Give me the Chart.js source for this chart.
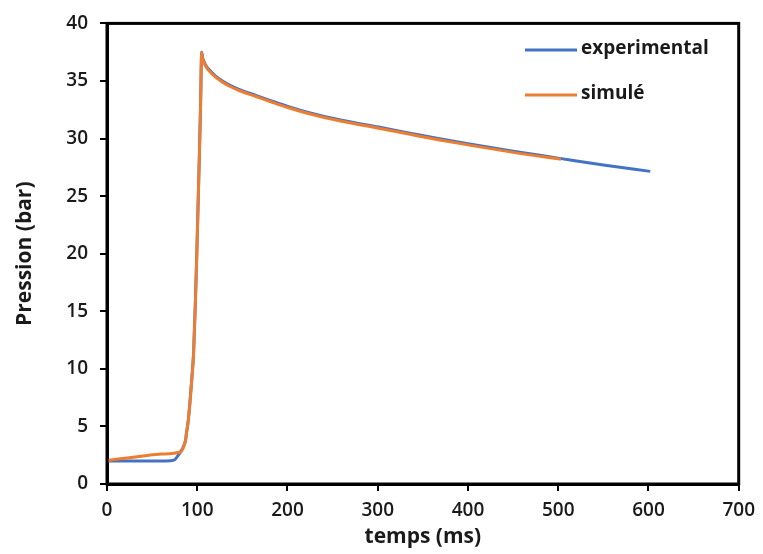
<!DOCTYPE html>
<html><head><meta charset="utf-8">
<script src="https://cdn.jsdelivr.net/npm/chart.js@4"></script>
<style>html,body{margin:0;padding:0;background:#fff}#c{display:block}</style>
</head><body>
<canvas id="c" width="763" height="554"></canvas>
<script>
const seriesNames = ['experimental', 'simulé'];
const timeExp  = [0, 30, 60, 70, 75, 78, 82, 85, 87, 88, 90, 92, 94, 96, 98, 99.5, 101, 102.5, 103.7, 104.9, 106, 108, 110, 113.6, 120, 128, 137, 147, 165, 183, 202, 224, 260, 301, 340, 367, 400, 450, 500, 550, 602];
const pressExp = [2.0, 2.0, 2.0, 2.02, 2.1, 2.4, 2.85, 3.3, 3.8, 4.4, 5.5, 7.2, 9.2, 11.5, 16, 20, 24.5, 29, 33, 37.5, 37.0, 36.6, 36.3, 35.95, 35.45, 35.0, 34.6, 34.25, 33.75, 33.25, 32.75, 32.25, 31.6, 31.0, 30.4, 30.0, 29.55, 28.9, 28.3, 27.7, 27.15];
const timeSim  = [0, 20, 40, 60, 82, 85, 87, 88, 90, 92, 94, 96, 98, 99.5, 101, 102.5, 103.7, 104.9, 106, 108, 110, 113.6, 120, 128, 137, 147, 165, 183, 202, 224, 260, 301, 340, 367, 400, 450, 503];
const pressSim = [2.05, 2.24, 2.43, 2.6, 2.8, 3.25, 3.75, 4.35, 5.45, 7.1, 9.1, 11.4, 15.9, 19.9, 24.4, 28.9, 32.9, 37.45, 36.9, 36.5, 36.2, 35.85, 35.35, 34.9, 34.5, 34.15, 33.65, 33.15, 32.65, 32.15, 31.5, 30.9, 30.3, 29.9, 29.45, 28.8, 28.2];
const xTicks = [0, 100, 200, 300, 400, 500, 600, 700];
const yTicks = [0, 5, 10, 15, 20, 25, 30, 35, 40];
const colors = ['#4472C4', '#ED7D31'];

const toPts = (xs, ys) => xs.map((x, i) => ({x, y: ys[i]}));
const FAM = "'Open Sans', 'Noto Sans', sans-serif";
const tickFont = {family: FAM, size: 19, weight: '600'};
const titleFont = {family: FAM, size: 21, weight: 'bold'};

const frame = {
  id: 'frame',
  afterDatasetsDraw(chart) {
    const {ctx, chartArea: a} = chart;
    ctx.save();
    ctx.strokeStyle = '#000'; ctx.lineWidth = 3;
    ctx.strokeRect(a.left, a.top, a.right - a.left, a.bottom - a.top);
    const lx = 525, ly = [50, 95];
    ctx.font = "bold 19px " + FAM;
    ctx.textBaseline = 'middle'; ctx.textAlign = 'left';
    seriesNames.forEach((n, i) => {
      ctx.strokeStyle = colors[i]; ctx.lineWidth = 3;
      ctx.beginPath(); ctx.moveTo(lx, ly[i]); ctx.lineTo(lx + 52, ly[i]); ctx.stroke();
      ctx.fillStyle = '#1a1a1a';
      ctx.fillText(n, lx + 56, ly[i] - 1);
    });
    ctx.restore();
  }
};

new Chart(document.getElementById('c'), {
  type: 'scatter',
  data: {
    datasets: [
      {label: seriesNames[0], data: toPts(timeExp, pressExp), borderColor: colors[0], borderWidth: 3, showLine: true, pointRadius: 0, cubicInterpolationMode: 'monotone', order: 2},
      {label: seriesNames[1], data: toPts(timeSim, pressSim), borderColor: colors[1], borderWidth: 3, showLine: true, pointRadius: 0, cubicInterpolationMode: 'monotone', order: 1}
    ]
  },
  options: {
    responsive: false, animation: false,
    layout: {padding: {left: 0, right: 20, top: 19, bottom: 0}},
    plugins: {legend: {display: false}, tooltip: {enabled: false}},
    scales: {
      x: {
        type: 'linear', min: 0, max: 700,
        afterBuildTicks: s => { s.ticks = xTicks.map(v => ({value: v})); },
        afterFit: s => { s.height = 70; },
        grid: {display: true, drawOnChartArea: false, drawTicks: true, tickLength: 7, color: '#000', lineWidth: 2},
        border: {display: true, color: '#000', width: 3},
        ticks: {color: '#1a1a1a', font: tickFont, padding: 8, maxRotation: 0},
        title: {display: true, text: 'temps (ms)', color: '#1a1a1a', font: titleFont, padding: {top: 0, bottom: 4}}
      },
      y: {
        type: 'linear', min: 0, max: 40,
        afterBuildTicks: s => { s.ticks = yTicks.map(v => ({value: v})); },
        afterFit: s => { s.width = 107; },
        grid: {display: true, drawOnChartArea: false, drawTicks: true, tickLength: 7, color: '#000', lineWidth: 2},
        border: {display: true, color: '#000', width: 3},
        ticks: {color: '#1a1a1a', font: tickFont, padding: 12},
        title: {display: true, text: 'Pression (bar)', color: '#1a1a1a', font: titleFont, padding: {top: 12, bottom: 0}}
      }
    }
  },
  plugins: [frame]
});
</script>
</body></html>
